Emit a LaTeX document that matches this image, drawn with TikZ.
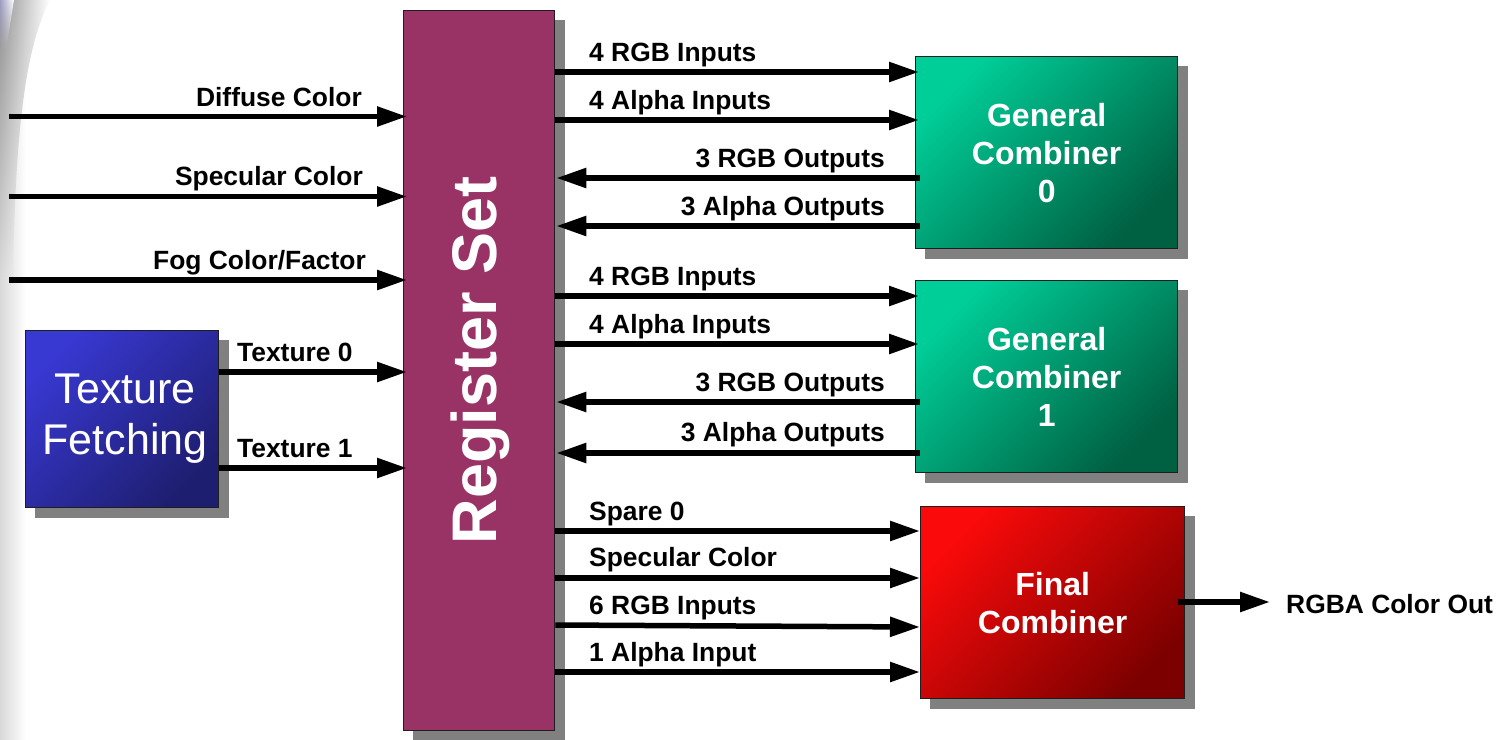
\documentclass[tikz,border=0pt]{standalone}
\usepackage{fontspec}
\setmainfont{Liberation Sans}
\usetikzlibrary{arrows.meta,calc,backgrounds,fadings}

\definecolor{regpurple}{RGB}{153,51,102}
\definecolor{shadowgray}{RGB}{128,128,128}
\definecolor{boxedge}{RGB}{30,30,30}
\definecolor{gcLight}{RGB}{0,206,152}
\definecolor{gcDark}{RGB}{0,96,66}
\definecolor{fcLight}{RGB}{250,10,10}
\definecolor{fcDark}{RGB}{125,0,0}
\definecolor{tfLight}{RGB}{56,56,210}
\definecolor{tfDark}{RGB}{30,30,112}

\tikzset{
  block/.style={draw=boxedge, line width=1.3pt, inner sep=0pt, anchor=north west,
    text=white, align=center},
  combiner/.style={block, minimum width=262pt, minimum height=192pt,
    top color=gcLight, bottom color=gcDark, shading angle=45,
    font=\fontsize{32}{38}\selectfont\bfseries},
  finalbox/.style={block, minimum width=264pt, minimum height=192pt,
    top color=fcLight, bottom color=fcDark, shading angle=45,
    font=\fontsize{32}{38}\selectfont\bfseries},
  fetchbox/.style={block, minimum width=193pt, minimum height=177pt,
    top color=tfLight, bottom color=tfDark, shading angle=45,
    font=\fontsize{43}{51}\selectfont},
  regbox/.style={block, fill=regpurple, minimum width=151pt, minimum height=720pt},
  regtext/.style={text=white, inner sep=0pt, font=\fontsize{63}{70}\selectfont\bfseries},
  lbl/.style={inner sep=0pt, font=\fontsize{26.4}{30}\selectfont\bfseries},
  flow/.style={line width=5.5pt, -{Triangle[length=30pt,width=19pt]}},
  into/.style={flow, shorten >=-4pt},
  shadowfill/.style={fill=shadowgray}
}

\begin{document}
\begin{tikzpicture}[x=1pt,y=-1pt]
  \useasboundingbox (0,0) rectangle (1498,739);

  % soft grey edge along the left border
  \shade[left color=gray!30, right color=white] (0,0) rectangle (26,739);
  \shade[left color=gray!85, right color=white, path fading=south]
    (0,0) -- (50,0) .. controls (24,50) and (15,140) .. (13,280) -- (0,280) -- cycle;
  \shade[left color=blue!25!gray!60, right color=white, path fading=south]
    (0,0) -- (14,0) -- (6,50) -- (0,50) -- cycle;

  % blocks
  \node[regbox] (reg) at (403,10) {};
  \node[regtext, rotate=90, anchor=base] at ([xshift=17pt,yshift=10pt]reg.center) {Register Set};
  \node[fetchbox] (tex) at (25,330) {\hspace*{6pt}Texture\\\hspace*{6pt}Fetching};
  \node[combiner] (gc0) at (915,56) {General\\Combiner\\0};
  \node[combiner] (gc1) at (915,280) {General\\Combiner\\1};
  \node[finalbox] (fc) at (920,506) {Final\\Combiner};

  % drop shadows
  \begin{scope}[on background layer]
    \foreach \b in {reg,tex,gc0,gc1,fc}
      \fill[shadowfill] ($(\b.south west)+(10,10)$) rectangle ($(\b.north east)+(10,10)$);
  \end{scope}

  % external inputs of the register set
  \coordinate (dif) at (9,116.5);
  \coordinate (spc) at (9,196.5);
  \coordinate (fog) at (9,280);
  \draw[into] (dif) -- (dif -| reg.west);
  \draw[into] (spc) -- (spc -| reg.west);
  \draw[into] (fog) -- (fog -| reg.west);
  \node[lbl, anchor=base east] at (362,106) {Diffuse Color};
  \node[lbl, anchor=base east] at (363,185.5) {Specular Color};
  \node[lbl, anchor=base east] at (366,269) {Fog Color/Factor};

  % texture fetch results
  \draw[into] (tex.east |- 0,372) -- (reg.west |- 0,372);
  \draw[into] (tex.east |- 0,468) -- (reg.west |- 0,468);
  \node[lbl, anchor=base west] at (237,361.5) {Texture 0};
  \node[lbl, anchor=base west] at (237,457) {Texture 1};

  % general combiner 0
  \draw[into] (reg.east |- 0,72)  -- (gc0.west |- 0,72);
  \draw[into] (reg.east |- 0,120) -- (gc0.west |- 0,120);
  \draw[flow] ([xshift=5pt]gc0.west |- 0,178) -- ([xshift=1pt]reg.east |- 0,178);
  \draw[flow] ([xshift=5pt]gc0.west |- 0,226) -- ([xshift=1pt]reg.east |- 0,226);
  \node[lbl, anchor=base west] at (589,61) {4 RGB Inputs};
  \node[lbl, anchor=base west] at (589,109) {4 Alpha Inputs};
  \node[lbl, anchor=base east] at (885,167.5) {3 RGB Outputs};
  \node[lbl, anchor=base east] at (885,215.5) {3 Alpha Outputs};

  % general combiner 1
  \draw[into] (reg.east |- 0,296) -- (gc1.west |- 0,296);
  \draw[into] (reg.east |- 0,344) -- (gc1.west |- 0,344);
  \draw[flow] ([xshift=5pt]gc1.west |- 0,402) -- ([xshift=1pt]reg.east |- 0,402);
  \draw[flow] ([xshift=5pt]gc1.west |- 0,453) -- ([xshift=1pt]reg.east |- 0,453);
  \node[lbl, anchor=base west] at (589,285) {4 RGB Inputs};
  \node[lbl, anchor=base west] at (589,333) {4 Alpha Inputs};
  \node[lbl, anchor=base east] at (885,391.5) {3 RGB Outputs};
  \node[lbl, anchor=base east] at (885,441) {3 Alpha Outputs};

  % final combiner
  \draw[flow] (reg.east |- 0,531) -- (fc.west |- 0,531);
  \draw[flow] (reg.east |- 0,578) -- (fc.west |- 0,578);
  \draw[flow] (reg.east |- 0,625) -- (fc.west |- 0,627);
  \draw[flow] (reg.east |- 0,672) -- (fc.west |- 0,672);
  \node[lbl, anchor=base west] at (589,520.5) {Spare 0};
  \node[lbl, anchor=base west] at (589,566) {Specular Color};
  \node[lbl, anchor=base west] at (589,614) {6 RGB Inputs};
  \node[lbl, anchor=base west] at (589,661.5) {1 Alpha Input};

  % output
  \coordinate (out) at (1270,602);
  \draw[flow] ([xshift=-7pt]fc.east |- out) -- (out);
  \node[lbl, anchor=base west] at (1286,613.5) {RGBA Color Out};
\end{tikzpicture}
\end{document}
